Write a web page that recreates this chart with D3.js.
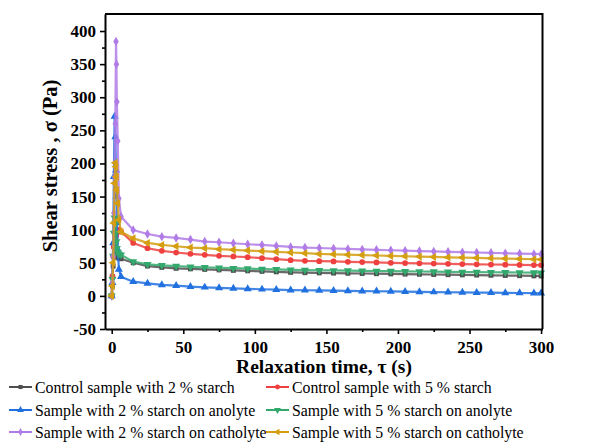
<!DOCTYPE html>
<html>
<head>
<meta charset="utf-8">
<script src="https://cdn.jsdelivr.net/npm/d3@7"></script>
<style>
  body { margin: 0; background: #fff; }
  svg { display: block; }
  svg text { font-family: "Liberation Serif", "DejaVu Serif", "Noto Serif", serif; }
</style>
</head>
<body>
<svg id="chart" width="606" height="442"></svg>
<script>
// relaxation times (s), dense near the spike then every 10 s
const times = [0, 0.5, 1, 1.5, 2, 2.5, 3, 3.3, 3.6, 4.2, 5, 6.5,
  15, 25, 35, 45, 55, 65, 75, 85, 95, 105, 115, 125, 135, 145, 155, 165, 175,
  185, 195, 205, 215, 225, 235, 245, 255, 265, 275, 285, 295, 300];

const control2 = [0, 15, 45, 75, 95, 90, 80, 70, 63, 58, 57, 56,
  50, 45, 43, 41.6, 40.8, 40, 39.2, 38.5, 37.8, 37, 36.3, 35.5, 35, 34.7, 34.4, 34.1, 33.8,
  33.5, 33.2, 32.9, 32.6, 32.3, 32, 31.7, 31.4, 31.1, 30.8, 30.5, 30.2, 30];
const control5 = [0, 30, 60, 74, 80, 85, 90, 94, 97, 99, 100, 97,
  80, 72, 68, 65.5, 63.5, 62, 60.5, 59.5, 58.5, 57, 55.5, 54, 53, 52.5, 52, 51.5, 51,
  50.5, 50, 49.6, 49.2, 48.8, 48.4, 48, 47.7, 47.4, 47.1, 46.8, 46.5, 46.5];
const anolyte2 = [0, 20, 80, 180, 271, 240, 190, 150, 110, 70, 40, 29,
  21.5, 19, 16.5, 15.6, 14, 13, 12.2, 11.4, 10.7, 10, 9.4, 8.8, 8.5, 8.2, 7.9, 7.6, 7.3,
  7, 6.7, 6.4, 6.1, 5.8, 5.5, 5.2, 5, 4.8, 4.6, 4.4, 4.2, 4];
const anolyte5 = [0, 25, 60, 95, 118, 110, 95, 82, 72, 66, 63, 62,
  51.7, 47.7, 46, 45, 44, 43.2, 42.5, 41.8, 41.2, 40.6, 40, 39.4, 39, 38.7, 38.4, 38.1, 37.8,
  37.6, 37.3, 37.1, 36.8, 36.6, 36.4, 36.1, 35.9, 35.7, 35.5, 35.3, 35.1, 35];
const catholyte2 = [0, 20, 60, 125, 180, 260, 384, 350, 293, 234, 147, 120,
  99.5, 93.5, 89.5, 87.5, 85, 82, 81, 79.5, 78, 77, 75.5, 74, 73, 72.3, 71.6, 70.9, 70.2,
  69.5, 68.9, 68.3, 67.7, 67.1, 66.5, 66, 65.5, 65, 64.4, 63.9, 63.4, 63];
const catholyte5 = [0, 15, 50, 110, 170, 201, 195, 180, 160, 140, 115, 97,
  87, 80, 77, 75, 73, 72, 70.5, 69.5, 68.5, 67.5, 66.5, 65.5, 64.5, 63.4, 62.8, 62.2, 61.6,
  61, 60.4, 59.9, 59.3, 58.8, 58.3, 57.8, 57.3, 56.8, 56.3, 55.8, 55.3, 55];

const seriesNames = [
  "Control sample with 2 % starch",
  "Control sample with 5 % starch",
  "Sample with 2 % starch on anolyte",
  "Sample with 5 % starch on anolyte",
  "Sample with 2 % starch on catholyte",
  "Sample with 5 % starch on catholyte"
];
const seriesValues = [control2, control5, anolyte2, anolyte5, catholyte2, catholyte5];

const xTicks = [0, 50, 100, 150, 200, 250, 300];
const xMinor = [25, 75, 125, 175, 225, 275];
const yTicks = [-50, 0, 50, 100, 150, 200, 250, 300, 350, 400];
const yMinor = [-25, 25, 75, 125, 175, 225, 275, 325, 375];

const colors = ["#4f4f4f", "#ef4040", "#2070e0", "#33a86c", "#b07be6", "#d49e10"];
const shapes = [
  { type: d3.symbolSquare, rot: 0, size: 24 },
  { type: d3.symbolCircle, rot: 0, size: 26 },
  { type: d3.symbolTriangle, rot: 0, size: 28 },
  { type: d3.symbolTriangle, rot: 180, size: 28 },
  { type: d3.symbolDiamond, rot: 0, size: 26 },
  { type: d3.symbolTriangle, rot: -90, size: 28 }
];

const svg = d3.select("#chart");
const plotLeft = 105, plotRight = 542.5, plotTop = 14, plotBottom = 329;

const x = d3.scaleLinear().domain([-4.7, 301]).range([plotLeft, plotRight]);
const y = d3.scaleLinear().domain([-50, 425.7]).range([plotBottom, plotTop]);

// series
const line = d3.line().x((d, i) => x(times[i])).y(d => y(d));
const plot = svg.append("g");
seriesValues.forEach((vals, s) => {
  const g = plot.append("g");
  g.append("path")
    .attr("d", line(vals))
    .attr("fill", "none")
    .attr("stroke", colors[s])
    .attr("stroke-width", 2.2)
    .attr("stroke-opacity", 0.85)
    .attr("stroke-linejoin", "round");
  const sym = d3.symbol().type(shapes[s].type).size(shapes[s].size);
  g.selectAll("path.m")
    .data(vals)
    .join("path")
      .attr("class", "m")
      .attr("d", sym)
      .attr("transform", (d, i) => `translate(${x(times[i])},${y(d)}) rotate(${shapes[s].rot})`)
      .attr("fill", colors[s]);
});

// frame
svg.append("path")
  .attr("d", `M${plotLeft},${plotTop}H${plotRight}V${plotBottom}`)
  .attr("fill", "none")
  .attr("stroke", "#000")
  .attr("stroke-width", 2);

// axes (plain hyphen for negatives, like the original)
const plain = d => String(d);
svg.append("g")
  .attr("transform", `translate(0,${plotBottom})`)
  .call(d3.axisBottom(x).tickValues(xTicks).tickFormat(plain).tickSize(5).tickSizeOuter(0).tickPadding(7));
svg.append("g")
  .attr("transform", `translate(0,${plotBottom})`)
  .call(d3.axisBottom(x).tickValues(xMinor).tickSize(3).tickSizeOuter(0).tickFormat(""))
  .call(g => g.select(".domain").remove());

svg.append("g")
  .attr("transform", `translate(${plotLeft},0)`)
  .call(d3.axisLeft(y).tickValues(yTicks).tickFormat(plain).tickSize(5).tickSizeOuter(0).tickPadding(4));
svg.append("g")
  .attr("transform", `translate(${plotLeft},0)`)
  .call(d3.axisLeft(y).tickValues(yMinor).tickSize(3).tickSizeOuter(0).tickFormat(""))
  .call(g => g.select(".domain").remove());

svg.selectAll(".domain").attr("stroke-width", 2);
svg.selectAll(".tick line").attr("stroke-width", 1.6);
svg.selectAll(".tick text")
  .style("font-weight", "bold")
  .style("font-size", "17px")
  .attr("fill", "#000");

// axis titles
svg.append("text")
  .attr("x", 324).attr("y", 373)
  .attr("text-anchor", "middle")
  .style("font-weight", "bold").style("font-size", "19.5px")
  .text("Relaxation time, τ (s)");
svg.append("text")
  .attr("transform", "translate(57,166) rotate(-90)")
  .attr("text-anchor", "middle")
  .style("font-weight", "bold").style("font-size", "20.5px")
  .text("Shear stress , σ (Pa)");

// legend
const legend = svg.append("g");
const rowsY = [387, 410, 432];
const colX = [9, 266];
seriesNames.forEach((name, s) => {
  const cx = colX[s % 2], cy = rowsY[Math.floor(s / 2)];
  const g = legend.append("g").attr("transform", `translate(${cx},${cy})`);
  g.append("line").attr("x1", 0).attr("x2", 23).attr("y1", 0).attr("y2", 0)
    .attr("stroke", colors[s]).attr("stroke-width", 2);
  g.append("path")
    .attr("d", d3.symbol().type(shapes[s].type).size(shapes[s].size * 0.7)())
    .attr("transform", `translate(11.5,0) rotate(${shapes[s].rot})`)
    .attr("fill", colors[s]);
  g.append("text")
    .attr("x", 26).attr("y", 0).attr("dy", "0.35em")
    .style("font-size", "15.8px")
    .attr("fill", "#000")
    .text(name);
});
</script>
</body>
</html>
